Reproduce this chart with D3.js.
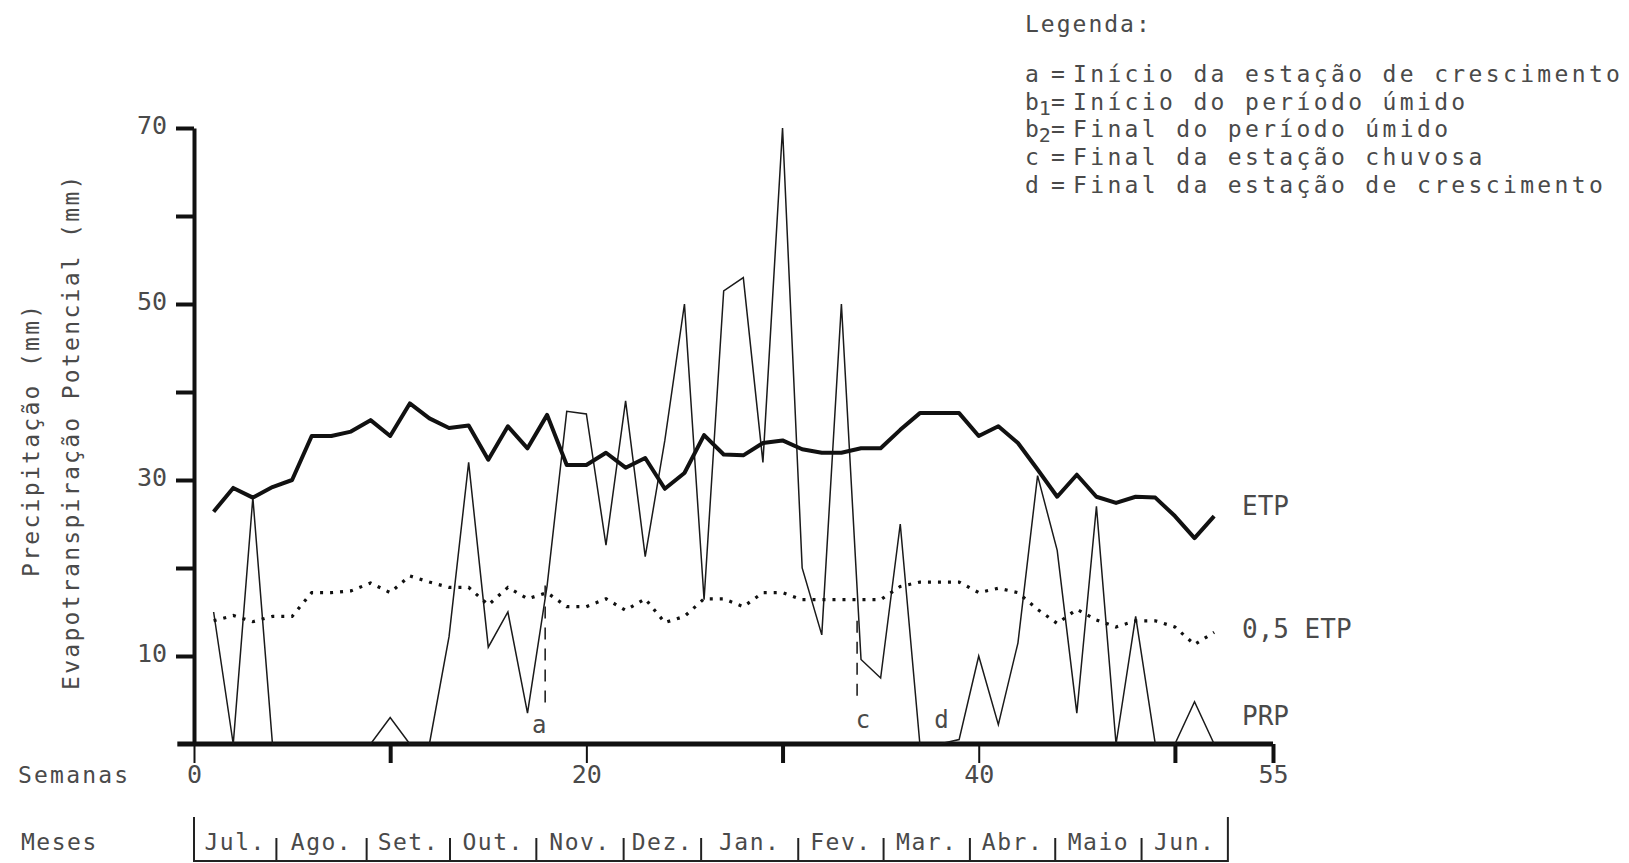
<!DOCTYPE html>
<html>
<head>
<meta charset="utf-8">
<script src="https://cdn.jsdelivr.net/npm/d3@7"></script>
<style>
	body { margin: 0; background: #fff; }
	text { font-family: 'DejaVu Sans Mono', monospace; fill: #4a4a4a; }
</style>
</head>
<body>
<div class="visContainer"></div>
<script>
const w = 1629;
const h = 863;

// semanas do ano agricola (jul - jun)
const weeks = [1, 2, 3, 4, 5, 6, 7, 8, 9, 10, 11, 12, 13, 14, 15, 16, 17, 18, 19, 20, 21, 22, 23, 24, 25, 26,
	27, 28, 29, 30, 31, 32, 33, 34, 35, 36, 37, 38, 39, 40, 41, 42, 43, 44, 45, 46, 47, 48, 49, 50, 51, 52];

// evapotranspiracao potencial (mm)
const etp = [26.4, 29.1, 28.0, 29.2, 30.0, 35.0, 35.0, 35.5, 36.8, 35.0, 38.7, 37.0, 35.9, 36.2, 32.3, 36.1,
	33.6, 37.4, 31.7, 31.7, 33.1, 31.4, 32.5, 29.0, 30.8, 35.1, 32.9, 32.8, 34.2, 34.5, 33.5, 33.1, 33.1, 33.6,
	33.6, 35.7, 37.6, 37.6, 37.6, 35.0, 36.1, 34.2, 31.2, 28.1, 30.6, 28.1, 27.4, 28.1, 28.0, 25.9, 23.4, 25.9];

// 0,5 ETP (mm)
const halfEtp = [14.0, 14.6, 13.9, 14.5, 14.5, 17.2, 17.2, 17.4, 18.3, 17.2, 19.1, 18.4, 17.8, 17.8, 15.8, 17.8,
	16.5, 17.2, 15.6, 15.6, 16.5, 15.2, 16.5, 13.8, 14.5, 16.5, 16.5, 15.6, 17.2, 17.2, 16.4, 16.4, 16.4, 16.4,
	16.4, 17.9, 18.4, 18.4, 18.4, 17.2, 17.7, 17.2, 15.3, 13.7, 15.3, 14.1, 13.3, 14.0, 14.0, 13.3, 11.3, 12.7];

// precipitacao (mm)
const prp = [15, 0, 28, 0, 0, 0, 0, 0, 0, 3, 0, 0, 12.2, 32, 11, 15, 3.5, 18, 37.8, 37.5, 22.6, 39, 21.3, 34.5,
	50, 16.4, 51.5, 53, 32, 70, 20, 12.4, 50, 9.6, 7.5, 25, 0, 0, 0.5, 10, 2.2, 11.5, 30.5, 22, 3.5, 27, 0,
	14.5, 0, 0, 4.8, 0];

// marcos (semana, PRP no topo, base da linha)
const markerLabels = ['a', 'c', 'd'];
const markerWeeks = [17.9, 33.8, 37.8];
const markerTop = [18, 14, 0];
const markerBottom = [4.5, 4.5, 0];

const yTicks = [10, 20, 30, 40, 50, 60, 70];
const xTicks = [0, 10, 20, 30, 40, 50, 55];

const months = ['Jul.', 'Ago.', 'Set.', 'Out.', 'Nov.', 'Dez.', 'Jan.', 'Fev.', 'Mar.', 'Abr.', 'Maio', 'Jun.'];
const monthEdges = [0, 4.2, 8.8, 13.05, 17.45, 21.9, 25.85, 30.8, 35.15, 39.55, 43.9, 48.3, 52.7];

const legendKeys = ['a', 'b', 'b', 'c', 'd'];
const legendSubs = ['', '1', '2', '', ''];
const legendTexts = [
	'Início da estação de crescimento',
	'Início do período úmido',
	'Final do período úmido',
	'Final da estação chuvosa',
	'Final da estação de crescimento'
];

const svg = d3
	.select('.visContainer')
	.append('svg')
	.attr('width', w)
	.attr('height', h);

const xScale = d3.scaleLinear().domain([0, 55]).range([194, 1273]);
const yScale = d3.scaleLinear().domain([0, 70]).range([744, 128]);

// eixo y
const yAxis = d3
	.axisLeft(yScale)
	.tickValues(yTicks)
	.tickSize(18)
	.tickSizeOuter(0)
	.tickPadding(9)
	.tickFormat((d) => (d % 20 === 10 ? d : ''));

const yAxisGroup = svg
	.append('g')
	.attr('transform', 'translate(' + xScale(0) + ',0)')
	.call(yAxis);
yAxisGroup.select('.domain').attr('stroke', '#111').attr('stroke-width', 4);
yAxisGroup.selectAll('.tick line').attr('stroke', '#111').attr('stroke-width', 4);
yAxisGroup
	.selectAll('.tick text')
	.attr('font-family', null)
	.attr('font-size', null)
	.style('font-size', '25px')
	.attr('dy', '0.2em');

// eixo x
const xAxis = d3
	.axisBottom(xScale)
	.tickValues(xTicks)
	.tickSize(19)
	.tickSizeOuter(0)
	.tickPadding(2)
	.tickFormat((d) => (d === 0 || d === 20 || d === 40 || d === 55 ? d : ''));

const xAxisGroup = svg
	.append('g')
	.attr('transform', 'translate(0,' + yScale(0) + ')')
	.call(xAxis);
xAxisGroup.select('.domain').remove();
xAxisGroup
	.selectAll('.tick line')
	.attr('stroke', '#111')
	.attr('stroke-width', (d) => (d === 0 || d === 20 || d === 40 ? 2 : 4));
xAxisGroup
	.selectAll('.tick text')
	.attr('font-family', null)
	.attr('font-size', null)
	.style('font-size', '25px');

svg
	.append('line')
	.attr('x1', xScale(-0.85))
	.attr('x2', xScale(55))
	.attr('y1', yScale(0))
	.attr('y2', yScale(0))
	.attr('stroke', '#111')
	.attr('stroke-width', 5);

// series
const line = (values) =>
	d3
		.line()
		.x((d, i) => xScale(weeks[i]))
		.y((d) => yScale(d))(values);

svg
	.append('path')
	.attr('d', line(prp))
	.attr('fill', 'none')
	.attr('stroke', '#1a1a1a')
	.attr('stroke-width', 1.5);

svg
	.append('path')
	.attr('d', line(halfEtp))
	.attr('fill', 'none')
	.attr('stroke', '#111')
	.attr('stroke-width', 3.2)
	.attr('stroke-dasharray', '3,7');

svg
	.append('path')
	.attr('d', line(etp))
	.attr('fill', 'none')
	.attr('stroke', '#111')
	.attr('stroke-width', 4)
	.attr('stroke-linejoin', 'round');

// marcos a, c, d
markerWeeks.forEach((wk, i) => {
	if (markerTop[i] > markerBottom[i]) {
		svg
			.append('line')
			.attr('x1', xScale(wk))
			.attr('x2', xScale(wk))
			.attr('y1', yScale(markerTop[i]))
			.attr('y2', yScale(markerBottom[i]))
			.attr('stroke', '#222')
			.attr('stroke-width', 1.6)
			.attr('stroke-dasharray', '12,9');
	}
	svg
		.append('text')
		.attr('x', xScale(wk) + (i === 0 ? -6 : 6))
		.attr('y', i === 0 ? 733 : 728)
		.attr('text-anchor', 'middle')
		.style('font-size', '24px')
		.text(markerLabels[i]);
});

// rotulos das series
const seriesLabels = ['ETP', '0,5 ETP', 'PRP'];
const seriesLabelY = [515, 638, 725];
seriesLabels.forEach((s, i) => {
	svg
		.append('text')
		.attr('x', 1242)
		.attr('y', seriesLabelY[i])
		.style('font-size', '26px')
		.text(s);
});

// titulos
svg
	.append('text')
	.attr('transform', 'translate(39,577) rotate(-90)')
	.style('font-size', '23px')
	.style('letter-spacing', '2.3px')
	.text('Precipitação (mm)');

svg
	.append('text')
	.attr('transform', 'translate(79,690) rotate(-90)')
	.style('font-size', '23px')
	.style('letter-spacing', '2.3px')
	.text('Evapotranspiração Potencial (mm)');

svg
	.append('text')
	.attr('x', 18)
	.attr('y', 783)
	.style('font-size', '23px')
	.style('letter-spacing', '2.2px')
	.text('Semanas');

svg
	.append('text')
	.attr('x', 21)
	.attr('y', 850)
	.style('font-size', '23px')
	.style('letter-spacing', '1.5px')
	.text('Meses');

// linha dos meses
const monthG = svg.append('g');
monthG
	.append('line')
	.attr('x1', xScale(monthEdges[0]))
	.attr('x2', xScale(monthEdges[monthEdges.length - 1]))
	.attr('y1', 861)
	.attr('y2', 861)
	.attr('stroke', '#222')
	.attr('stroke-width', 2);

monthG
	.selectAll('.sep')
	.data(monthEdges)
	.enter()
	.append('line')
	.attr('class', 'sep')
	.attr('x1', (d) => xScale(d))
	.attr('x2', (d) => xScale(d))
	.attr('y1', (d, i) => (i === 0 || i === monthEdges.length - 1 ? 817 : 838))
	.attr('y2', 862)
	.attr('stroke', '#222')
	.attr('stroke-width', 2);

monthG
	.selectAll('.month')
	.data(months)
	.enter()
	.append('text')
	.attr('class', 'month')
	.attr('x', (d, i) => (xScale(monthEdges[i]) + xScale(monthEdges[i + 1])) / 2)
	.attr('y', 850)
	.attr('text-anchor', 'middle')
	.style('font-size', '23px')
	.style('letter-spacing', '1.5px')
	.text((d) => d);

// legenda
svg
	.append('text')
	.attr('x', 1025)
	.attr('y', 32)
	.style('font-size', '23px')
	.style('letter-spacing', '2px')
	.text('Legenda:');

const legendRows = svg
	.selectAll('.leg')
	.data(legendTexts)
	.enter()
	.append('g')
	.attr('class', 'leg')
	.attr('transform', (d, i) => 'translate(1025,' + (82 + i * 27.7) + ')');

legendRows
	.append('text')
	.style('font-size', '23px')
	.text((d, i) => legendKeys[i])
	.append('tspan')
	.attr('dy', 5)
	.style('font-size', '20px')
	.text((d, i) => legendSubs[i]);

legendRows
	.append('text')
	.attr('x', 26)
	.style('font-size', '23px')
	.text('=');

legendRows
	.append('text')
	.attr('x', 48)
	.style('font-size', '23px')
	.style('letter-spacing', '3.35px')
	.text((d) => d);
</script>
</body>
</html>
